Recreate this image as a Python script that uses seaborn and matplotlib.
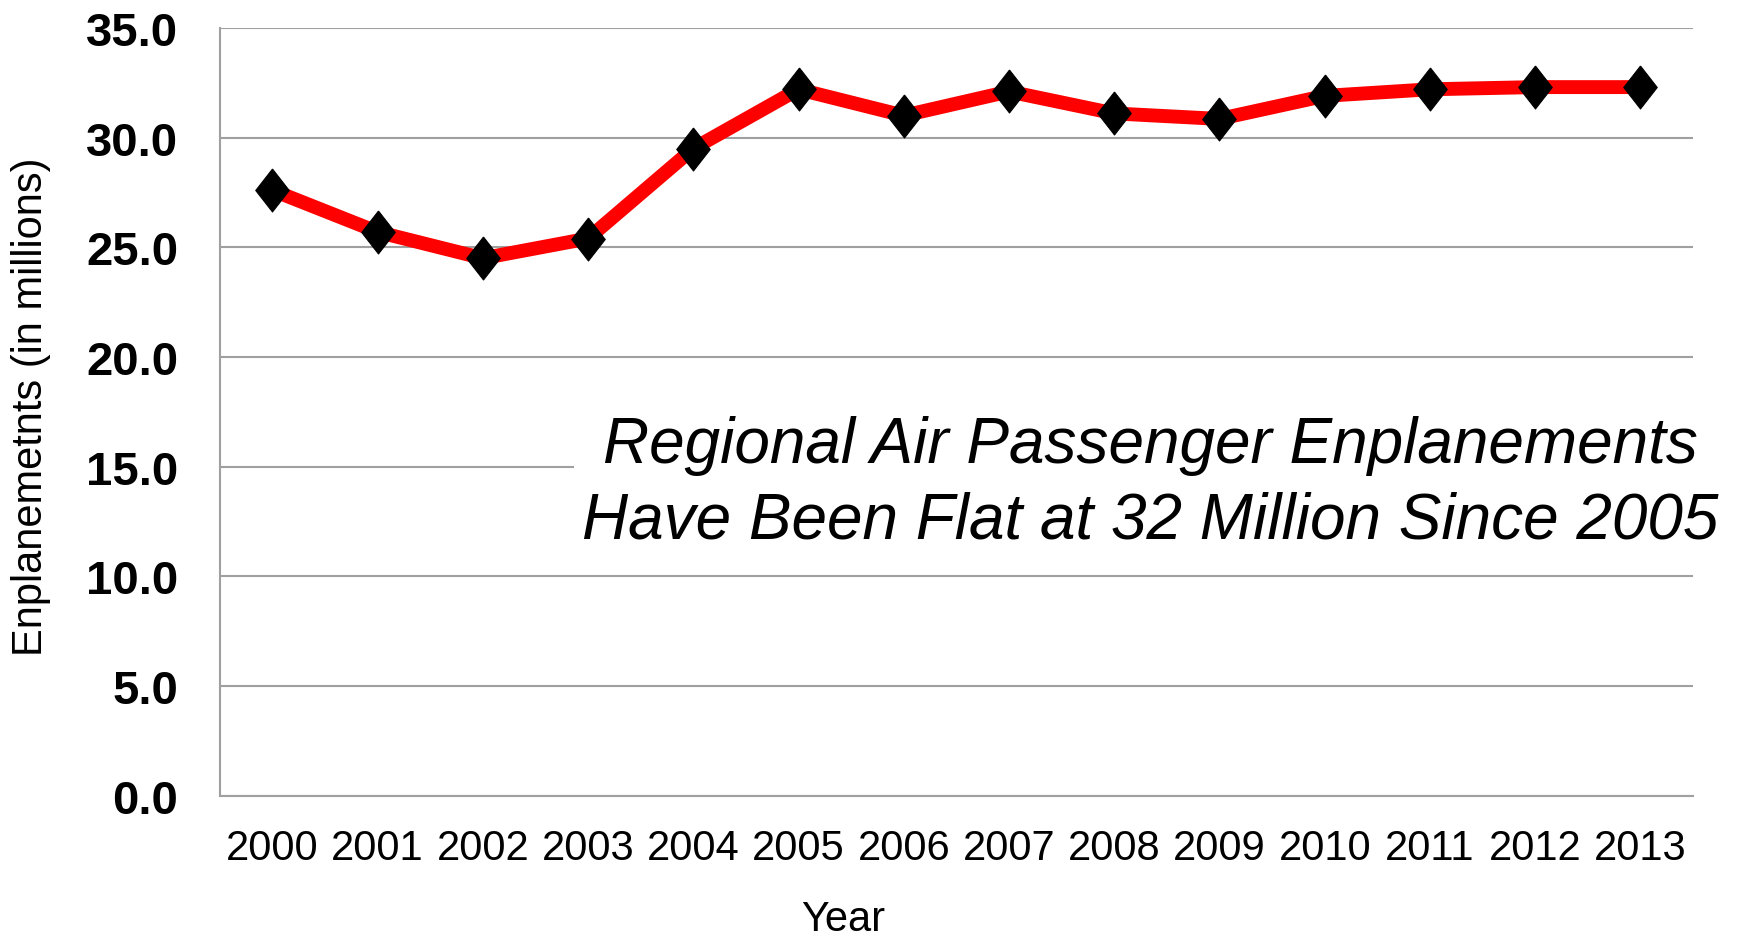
"""
Regional air passenger enplanements, 2000-2013
"""
import matplotlib
matplotlib.use("Agg")
import matplotlib.pyplot as plt
import seaborn as sns

# 数据
years = [2000, 2001, 2002, 2003, 2004, 2005, 2006, 2007, 2008, 2009, 2010, 2011, 2012, 2013]
enplanements = [27.6, 25.7, 24.5, 25.4, 29.5, 32.2, 31.0, 32.1, 31.1, 30.85, 31.9, 32.2, 32.3, 32.3]
y_ticks = [0, 5, 10, 15, 20, 25, 30, 35]

sns.set_style("white")
plt.rcParams['font.family'] = ['Liberation Sans', 'DejaVu Sans']
plt.rcParams['text.color'] = 'black'
plt.rcParams['xtick.color'] = 'black'
plt.rcParams['ytick.color'] = 'black'

fig = plt.figure(figsize=(17.4, 9.37), dpi=100)
ax = fig.add_axes([0.1263, 0.1496, 0.973 - 0.1263, 0.9692 - 0.1496])

diamond = [(0, 1), (0.78, 0), (0, -1), (-0.78, 0), (0, 1)]
sns.lineplot(x=years, y=enplanements, ax=ax, color="#ff0000", linewidth=10,
             marker=diamond, markersize=31, markerfacecolor="black",
             markeredgecolor="black", zorder=3)

ax.set_xlim(1999.5, 2013.5)
ax.set_ylim(0, 35)
ax.set_xticks(years)
ax.set_xticklabels([str(y) for y in years], fontsize=30)
ax.set_yticks(y_ticks)
ax.set_yticklabels([f"{v:.1f}" for v in y_ticks], fontsize=34, fontweight="bold")
ax.tick_params(axis="both", length=0)
ax.tick_params(axis="y", pad=30)
ax.tick_params(axis="x", pad=23)

ax.grid(axis="y", color="#a0a0a0", linewidth=1.5)
ax.set_axisbelow(True)
for side in ["top", "right"]:
    ax.spines[side].set_visible(False)
for side in ["left", "bottom"]:
    ax.spines[side].set_color("#a0a0a0")
    ax.spines[side].set_linewidth(1.5)

ax.set_xlabel("")
ax.set_ylabel("")
fig.text(31 / 1740, 1 - 407 / 937, "Enplanemetnts (in millions)", fontsize=30,
         rotation=90, ha="center", va="center")
fig.text(843 / 1740, 1 - 920 / 937, "Year", fontsize=30, ha="center", va="center")

fig.text(1150 / 1740, 1 - 484 / 937,
         "Regional Air Passenger Enplanements\nHave Been Flat at 32 Million Since 2005",
         ha="center", va="center", multialignment="center", fontsize=46,
         fontstyle="italic", linespacing=1.33,
         bbox=dict(facecolor="white", edgecolor="none", pad=6), zorder=5)

fig.savefig("out.png", dpi=100)
